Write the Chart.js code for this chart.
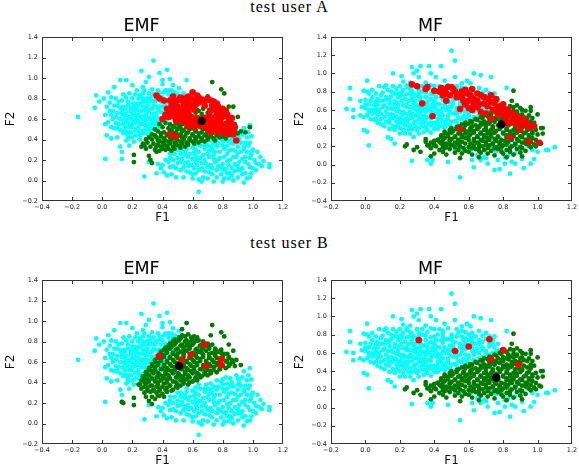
<!DOCTYPE html>
<html>
<head>
<meta charset="utf-8">
<script src="https://cdn.jsdelivr.net/npm/chart.js@4.4.1/dist/chart.umd.min.js"></script>
<style>
  html, body { margin: 0; padding: 0; background: #fff; overflow: hidden; }
  #fig { position: relative; width: 579px; height: 466px; overflow: hidden; }
  .sup { position: absolute; left: 0; width: 579px; text-align: center;
         font-family: "Liberation Serif", serif; font-size: 16px; line-height: 16px;
         letter-spacing: 1px; color: #000; }
  canvas { position: absolute; }
  .frame { position: absolute; box-sizing: border-box; border: 1px solid #333; pointer-events: none; z-index: 5; }
  .tick { position: absolute; background: #333; pointer-events: none; z-index: 5; }
</style>
</head>
<body>
<div id="fig">
  <div class="sup" style="top:-1px">test user A</div>
  <div class="sup" style="top:235px">test user B</div>
  <canvas id="emfA" width="290" height="233" style="left:0;top:0"></canvas>
  <canvas id="mfA" width="290" height="233" style="left:289px;top:0"></canvas>
  <canvas id="emfB" width="290" height="233" style="left:0;top:243px"></canvas>
  <canvas id="mfB" width="290" height="233" style="left:289px;top:243px"></canvas>
</div>
<script>
// axis ranges
const xTicksEMF = [-0.4, 1.2];
const yTicksEMF = [-0.2, 1.4];
const xTicksMF = [-0.2, 1.2];
const yTicksMF = [-0.4, 1.4];
const tickStep = 0.2;

// ---- EMF : all items (same for both users)
const emfCyan = [
  [-0.16,0.62],[-0.04,0.83],[-0.05,0.71],[-0.02,0.77],[0.01,0.80],[0.04,0.86],[0.06,0.81],[0.08,0.91],
  [0.12,0.98],[0.16,0.98],[0.20,0.93],[0.26,1.07],[0.34,1.17],[0.38,1.05],[0.31,1.01],[0.29,0.96],
  [0.27,0.91],[0.23,0.88],[0.18,0.85],[0.13,0.78],[0.10,0.73],[0.07,0.68],[0.02,0.64],[0.02,0.55],
  [0.04,0.57],[0.03,0.44],[0.06,0.41],[0.02,0.21],[0.08,0.51],[0.11,0.55],[0.09,0.62],[0.13,0.65],
  [0.16,0.59],[0.14,0.46],[0.12,0.33],[0.13,0.28],[0.13,0.21],[0.18,0.34],[0.20,0.42],[0.22,0.49],
  [0.18,0.52],[0.21,0.59],[0.24,0.64],[0.19,0.70],[0.22,0.75],[0.27,0.72],[0.27,0.80],[0.31,0.85],
  [0.33,0.78],[0.30,0.67],[0.29,0.59],[0.24,0.52],[0.27,0.46],[0.31,0.55],[0.34,0.62],[0.37,0.70],
  [0.39,0.77],[0.37,0.88],[0.40,0.94],[0.23,0.71],[0.17,0.77],[0.14,0.72],[0.20,0.64],[0.12,0.49],
  [0.16,0.39],[0.28,0.04],[0.36,0.07],[0.31,0.18],[0.10,0.42],[0.17,0.47],
  [0.20,0.80],[0.25,0.83],[0.28,0.77],[0.22,0.68],[0.26,0.62],[0.30,0.73],[0.33,0.70],[0.35,0.77],
  [0.38,0.82],[0.41,0.86],[0.36,0.66],[0.32,0.60],[0.28,0.55],[0.24,0.57],[0.20,0.55],[0.18,0.62],
  [0.16,0.66],[0.24,0.74],[0.30,0.80],[0.34,0.84],[0.42,0.78],[0.44,0.84],[0.46,0.88],[0.40,0.72],
  [0.38,0.60],[0.35,0.55],[0.31,0.50],[0.26,0.48],[0.22,0.44],[0.19,0.47],[0.14,0.55],[0.12,0.60],
  [0.10,0.66],[0.15,0.70],[0.20,0.75],[0.27,0.68],[0.29,0.64],[0.33,0.65],[0.36,0.72],[0.39,0.67],
  [0.43,0.70],[0.45,0.75],[0.48,0.80],[0.50,0.84],[0.44,0.64],[0.41,0.60],[0.37,0.57],[0.34,0.50],
  [0.30,0.45],[0.25,0.40],[0.21,0.38],[0.17,0.41],
  [0.28,0.88],[0.33,0.89],[0.42,0.88],[0.48,0.86],
  [0.14,0.84],[0.22,0.84],[0.27,0.85],[0.38,0.85],[0.47,0.84],
  [0.09,0.80],[0.16,0.81],[0.24,0.80],[0.32,0.81],[0.36,0.80],[0.40,0.81],[0.45,0.80],
  [0.05,0.76],[0.11,0.77],[0.26,0.76],[0.31,0.77],[0.42,0.75],[0.47,0.77],
  [0.03,0.72],[0.08,0.73],[0.12,0.71],[0.17,0.73],[0.21,0.72],[0.29,0.71],[0.34,0.73],[0.38,0.72],[0.47,0.72],
  [0.05,0.68],[0.13,0.68],[0.19,0.67],[0.25,0.68],[0.31,0.69],[0.42,0.68],[0.46,0.68],
  [0.06,0.64],[0.15,0.63],[0.22,0.64],[0.28,0.63],[0.36,0.63],[0.41,0.64],
  [0.07,0.60],[0.14,0.59],[0.19,0.60],[0.23,0.60],[0.27,0.59],[0.31,0.61],[0.35,0.59],[0.43,0.60],
  [0.09,0.56],[0.17,0.56],[0.22,0.56],[0.26,0.55],[0.33,0.56],[0.39,0.56],
  [0.06,0.52],[0.10,0.51],[0.15,0.52],[0.20,0.52],[0.29,0.52],[0.33,0.53],[0.37,0.52],
  [0.15,0.48],[0.24,0.48],[0.28,0.49],[0.32,0.47],
  [0.17,0.44],[0.25,0.44],[0.33,0.44],
  [0.43,1.08],[0.45,0.99],[0.56,0.98],[0.51,0.90],[0.47,0.93],[0.40,0.98],[0.54,0.85],[0.44,0.88],
  [0.64,-0.11],[0.43,0.05],[0.49,0.03],[0.54,0.03],[0.58,0.08],[0.67,0.03],[0.66,-0.01],[0.74,-0.01],
  [0.80,-0.01],[0.87,0.00],[0.94,-0.02],[0.96,0.02],[1.00,0.12],[1.04,0.16],[1.11,0.16],[1.11,0.13],
  [1.05,0.23],[0.99,0.28],[0.98,0.37],[0.99,0.43],[0.97,0.47],[0.94,0.33],[0.95,0.23],[0.91,0.18],
  [0.89,0.23],[0.86,0.12],[0.83,0.07],[0.80,0.16],[0.76,0.10],[0.71,0.08],[0.69,0.16],[0.74,0.21],
  [0.78,0.28],[0.84,0.29],[0.87,0.36],[0.91,0.41],[0.83,0.39],[0.77,0.36],[0.71,0.29],[0.67,0.25],
  [0.63,0.20],[0.59,0.15],[0.54,0.13],[0.49,0.12],[0.45,0.13],[0.47,0.20],[0.53,0.21],[0.58,0.26],
  [0.64,0.28],[0.61,0.12],[0.66,0.12],[0.70,0.02],[0.76,0.03],[0.81,0.02],[0.90,0.03],[0.93,0.12],
  [0.97,0.16],[1.01,0.20],[1.03,0.28],[0.96,0.28],[0.92,0.28],[0.88,0.29],[0.85,0.20],[0.81,0.23],
  [0.77,0.20],[0.72,0.15],[0.79,0.12],[0.88,0.16],[0.95,0.07],[0.68,0.34],[0.74,0.36],[0.80,0.34],
  [0.85,0.44],[0.94,0.51],[0.98,0.54],[0.96,0.42],[0.41,0.08],[0.40,0.15],[0.39,0.12],[0.37,0.16],
  [0.42,0.20],[0.48,0.26],[0.52,0.30],[0.55,0.28],[0.60,0.32],[0.62,0.24],[0.65,0.34],[0.69,0.38],
  [0.72,0.33],[0.75,0.28],[0.79,0.41],[0.82,0.45],[0.86,0.40],[0.89,0.47],[0.92,0.37],[0.57,0.18],
  [0.60,0.06],[0.68,0.20],[0.73,0.12],[0.82,0.11],[0.86,0.05],[0.90,0.10],[0.99,0.07],[1.07,0.19],
  [0.93,0.45],[0.45,0.22],[0.50,0.17],
  [0.76,0.42],[0.80,0.43],[0.90,0.44],
  [0.64,0.38],[0.72,0.39],[0.80,0.38],[0.85,0.37],[0.90,0.38],[0.95,0.37],
  [0.56,0.34],[0.62,0.35],[0.70,0.34],[0.76,0.33],[0.83,0.34],[0.90,0.33],[0.97,0.34],
  [0.50,0.30],[0.56,0.31],[0.62,0.30],[0.68,0.31],[0.73,0.30],[0.81,0.31],[0.86,0.30],[0.94,0.31],[1.00,0.30],
  [0.45,0.26],[0.52,0.26],[0.55,0.25],[0.61,0.27],[0.70,0.26],[0.74,0.25],[0.83,0.26],[0.90,0.26],[0.99,0.25],
  [0.50,0.22],[0.57,0.23],[0.60,0.21],[0.65,0.22],[0.71,0.23],[0.78,0.22],[0.87,0.23],[0.93,0.21],[0.98,0.22],
  [0.44,0.18],[0.52,0.18],[0.55,0.17],[0.62,0.18],[0.66,0.17],[0.75,0.18],[0.83,0.19],[0.95,0.18],[1.02,0.17],
  [0.47,0.14],[0.57,0.14],[0.63,0.15],[0.70,0.13],[0.77,0.14],[0.84,0.15],[0.90,0.14],[0.98,0.13],[1.06,0.14],
  [0.52,0.10],[0.56,0.09],[0.64,0.10],[0.68,0.09],[0.81,0.10],[0.88,0.09],[0.92,0.10],[1.02,0.10],
  [0.46,0.06],[0.62,0.07],[0.73,0.06],[0.79,0.06],[0.85,0.07],[0.93,0.06],
  [0.60,0.02],[0.64,0.01],[0.84,0.02],[0.98,0.03]
];

const emfGreenA = [
  [0.21,0.25],[0.21,0.18],[0.27,0.36],[0.29,0.31],[0.32,0.20],[0.33,0.17],[0.31,0.24],[0.36,0.28],
  [0.37,0.39],[0.39,0.46],[0.38,0.55],[0.34,0.36],[0.31,0.42],[0.26,0.33],[0.29,0.40],[0.33,0.45],
  [0.35,0.50],[0.36,0.33],[0.40,0.52],[0.42,0.56],
  [0.30,0.37],[0.33,0.40],[0.35,0.44],[0.37,0.48],[0.28,0.34],[0.32,0.33],[0.35,0.30],[0.36,0.42],
  [0.38,0.29],[0.42,0.30],[0.46,0.29],
  [0.40,0.31],[0.44,0.31],[0.48,0.31],[0.52,0.32],
  [0.39,0.33],[0.43,0.34],[0.47,0.33],[0.51,0.34],[0.55,0.33],
  [0.37,0.35],[0.41,0.35],[0.45,0.36],[0.49,0.35],[0.53,0.36],[0.57,0.35],[0.61,0.36],
  [0.40,0.37],[0.44,0.38],[0.48,0.37],[0.52,0.38],[0.56,0.37],[0.60,0.38],[0.64,0.37],[0.68,0.38],
  [0.38,0.39],[0.42,0.39],[0.46,0.40],[0.50,0.39],[0.54,0.40],[0.58,0.39],[0.62,0.40],[0.66,0.39],[0.70,0.40],[0.75,0.39],
  [0.41,0.41],[0.45,0.42],[0.49,0.41],[0.53,0.42],[0.58,0.41],[0.62,0.42],[0.66,0.41],[0.70,0.42],
  [0.74,0.41],[0.78,0.42],[0.82,0.41],
  [0.39,0.43],[0.43,0.44],[0.47,0.43],[0.51,0.44],[0.55,0.43],[0.60,0.44],[0.64,0.43],[0.68,0.44],
  [0.72,0.43],[0.76,0.44],[0.80,0.43],[0.84,0.44],
  [0.43,0.45],[0.47,0.46],[0.52,0.45],[0.56,0.46],[0.60,0.45],[0.64,0.46],[0.69,0.45],[0.73,0.46],
  [0.77,0.45],[0.81,0.46],[0.86,0.45],[0.90,0.46],
  [0.41,0.47],[0.45,0.48],[0.49,0.47],[0.53,0.48],[0.57,0.47],[0.62,0.48],[0.66,0.47],[0.70,0.48],
  [0.75,0.47],[0.79,0.48],[0.83,0.47],[0.88,0.48],
  [0.46,0.49],[0.50,0.50],[0.54,0.49],[0.58,0.50],[0.62,0.49],[0.67,0.50],[0.71,0.49],[0.75,0.50],
  [0.79,0.49],[0.84,0.50],[0.88,0.49],
  [0.44,0.51],[0.48,0.52],[0.52,0.51],[0.56,0.52],[0.60,0.51],[0.65,0.52],[0.69,0.51],[0.73,0.52],
  [0.77,0.51],[0.81,0.52],[0.86,0.51],
  [0.47,0.53],[0.51,0.54],[0.56,0.53],[0.60,0.54],[0.64,0.53],[0.69,0.54],[0.73,0.53],[0.78,0.54],
  [0.83,0.53],
  [0.45,0.55],[0.49,0.56],[0.53,0.55],[0.57,0.56],[0.62,0.55],[0.66,0.56],[0.70,0.55],[0.75,0.56],
  [0.50,0.57],[0.54,0.58],[0.58,0.57],[0.63,0.58],[0.67,0.57],[0.72,0.58],
  [0.52,0.59],[0.56,0.60],[0.61,0.59],[0.65,0.60],[0.70,0.59],
  [0.56,0.61],[0.60,0.62],[0.64,0.61],[0.68,0.62],
  [0.58,0.65],[0.62,0.66],[0.66,0.65],[0.70,0.66],[0.64,0.68],
  [0.63,0.69],[0.67,0.70],[0.71,0.69],
  [0.73,0.96],[0.79,0.89],[0.81,0.85],[0.70,0.82],[0.84,0.72],[0.87,0.72],[0.90,0.62],[0.95,0.47],
  [0.98,0.52],[0.92,0.48],[0.88,0.55]
];

const emfGreenB = [
  [0.33,0.26],[0.37,0.27],[0.41,0.26],
  [0.28,0.30],[0.32,0.31],[0.36,0.30],[0.40,0.29],[0.43,0.31],
  [0.30,0.32],[0.34,0.32],[0.38,0.32],[0.42,0.33],[0.46,0.32],
  [0.26,0.34],[0.30,0.35],[0.34,0.33],[0.38,0.34],[0.43,0.35],[0.47,0.33],[0.50,0.35],
  [0.28,0.36],[0.32,0.37],[0.36,0.36],[0.40,0.36],[0.45,0.37],[0.49,0.36],[0.52,0.37],
  [0.25,0.38],[0.29,0.39],[0.33,0.37],[0.37,0.38],[0.41,0.39],[0.45,0.37],[0.50,0.38],[0.54,0.39],[0.57,0.38],
  [0.28,0.40],[0.31,0.41],[0.37,0.40],[0.43,0.40],[0.49,0.40],[0.54,0.41],[0.58,0.40],
  [0.26,0.42],[0.30,0.43],[0.35,0.41],[0.39,0.42],[0.43,0.43],[0.47,0.41],[0.52,0.42],[0.56,0.43],[0.60,0.41],[0.63,0.42],
  [0.28,0.44],[0.33,0.44],[0.37,0.45],[0.41,0.44],[0.45,0.44],[0.50,0.45],[0.54,0.44],[0.58,0.45],[0.62,0.44],[0.65,0.45],
  [0.27,0.46],[0.31,0.47],[0.36,0.45],[0.40,0.46],[0.44,0.47],[0.49,0.45],[0.53,0.46],[0.57,0.47],[0.62,0.45],[0.66,0.46],[0.70,0.47],
  [0.29,0.48],[0.34,0.49],[0.38,0.48],[0.42,0.48],[0.47,0.49],[0.51,0.48],[0.55,0.48],[0.60,0.49],[0.64,0.48],[0.68,0.48],[0.72,0.49],
  [0.29,0.50],[0.33,0.51],[0.37,0.49],[0.42,0.50],[0.46,0.51],[0.50,0.49],[0.55,0.50],[0.59,0.51],[0.63,0.49],[0.68,0.50],[0.72,0.51],[0.76,0.50],
  [0.31,0.52],[0.35,0.52],[0.40,0.53],[0.44,0.52],[0.48,0.52],[0.53,0.53],[0.57,0.52],[0.61,0.52],[0.66,0.53],[0.70,0.52],[0.74,0.52],[0.78,0.53],
  [0.31,0.54],[0.35,0.55],[0.39,0.53],[0.43,0.54],[0.48,0.55],[0.52,0.53],[0.56,0.54],[0.61,0.55],[0.65,0.53],[0.69,0.54],[0.74,0.55],[0.78,0.53],[0.82,0.54],
  [0.33,0.56],[0.37,0.57],[0.41,0.56],[0.46,0.56],[0.50,0.57],[0.54,0.56],[0.59,0.56],[0.63,0.57],[0.67,0.56],[0.72,0.56],[0.76,0.57],[0.80,0.56],[0.84,0.56],
  [0.33,0.58],[0.37,0.59],[0.41,0.57],[0.45,0.58],[0.50,0.59],[0.54,0.57],[0.58,0.58],[0.63,0.59],[0.67,0.57],[0.71,0.58],[0.76,0.59],[0.80,0.57],[0.85,0.58],[0.88,0.56],
  [0.35,0.60],[0.39,0.61],[0.43,0.60],[0.48,0.60],[0.52,0.61],[0.56,0.60],[0.61,0.60],[0.65,0.61],[0.69,0.60],[0.74,0.60],[0.78,0.61],[0.83,0.60],[0.87,0.60],
  [0.35,0.62],[0.39,0.63],[0.43,0.61],[0.47,0.62],[0.52,0.63],[0.56,0.61],[0.60,0.62],[0.65,0.63],[0.69,0.61],[0.73,0.62],[0.78,0.63],[0.82,0.61],[0.86,0.62],
  [0.37,0.64],[0.41,0.65],[0.45,0.64],[0.50,0.64],[0.54,0.65],[0.58,0.64],[0.63,0.64],[0.67,0.65],[0.71,0.64],[0.76,0.64],[0.80,0.65],[0.84,0.64],
  [0.37,0.66],[0.41,0.67],[0.45,0.65],[0.49,0.66],[0.54,0.67],[0.58,0.65],[0.62,0.66],[0.67,0.67],[0.71,0.65],[0.75,0.66],[0.80,0.67],[0.84,0.65],
  [0.39,0.68],[0.43,0.69],[0.47,0.68],[0.50,0.68],[0.54,0.69],[0.58,0.68],[0.62,0.68],[0.66,0.69],[0.71,0.68],[0.75,0.68],[0.79,0.69],[0.83,0.68],
  [0.39,0.70],[0.43,0.71],[0.47,0.69],[0.52,0.70],[0.56,0.71],[0.60,0.69],[0.64,0.70],[0.69,0.71],[0.73,0.69],[0.77,0.70],[0.81,0.68],
  [0.41,0.72],[0.45,0.73],[0.49,0.72],[0.54,0.72],[0.58,0.73],[0.62,0.72],[0.66,0.72],[0.71,0.73],[0.75,0.72],[0.79,0.72],
  [0.42,0.74],[0.46,0.75],[0.50,0.73],[0.54,0.74],[0.58,0.75],[0.63,0.73],[0.67,0.74],[0.71,0.75],[0.75,0.73],
  [0.44,0.76],[0.48,0.77],[0.52,0.76],[0.56,0.76],[0.60,0.77],[0.65,0.76],[0.69,0.76],[0.73,0.77],
  [0.45,0.78],[0.49,0.79],[0.53,0.77],[0.57,0.78],[0.61,0.79],[0.66,0.77],[0.70,0.78],
  [0.47,0.80],[0.51,0.81],[0.55,0.80],[0.59,0.80],[0.63,0.81],[0.67,0.80],
  [0.48,0.82],[0.52,0.83],[0.56,0.81],[0.60,0.82],[0.64,0.81],
  [0.51,0.84],[0.55,0.85],[0.59,0.84],[0.63,0.84],
  [0.53,0.86],[0.57,0.87],[0.61,0.85],
  [0.56,0.98],[0.53,0.92],[0.73,0.96],[0.72,0.86],[0.79,0.89],[0.81,0.85],[0.84,0.77],[0.87,0.71],
  [0.89,0.62],[0.92,0.57],[0.21,0.25],[0.21,0.18],[0.14,0.20],[0.13,0.21],[0.29,0.26],[0.31,0.22],
  [0.33,0.19],[0.35,0.24],[0.38,0.27],[0.24,0.38]
];

const emfRedA = [
  [0.36,0.83],[0.38,0.80],[0.41,0.78],[0.40,0.60],[0.42,0.64],[0.43,0.70],
  [0.47,0.82],[0.52,0.81],[0.57,0.82],[0.60,0.86],[0.63,0.83],
  [0.45,0.78],[0.49,0.77],[0.53,0.78],[0.57,0.77],[0.62,0.78],[0.66,0.79],[0.70,0.80],[0.74,0.77],
  [0.46,0.73],[0.50,0.72],[0.54,0.73],[0.58,0.72],[0.62,0.74],[0.73,0.73],[0.77,0.72],[0.80,0.70],
  [0.45,0.68],[0.49,0.67],[0.53,0.68],[0.57,0.67],[0.61,0.69],[0.72,0.68],[0.76,0.67],[0.80,0.66],[0.83,0.64],
  [0.47,0.63],[0.51,0.62],[0.55,0.63],[0.59,0.62],[0.63,0.61],[0.67,0.61],[0.71,0.63],[0.75,0.62],[0.79,0.61],[0.84,0.59],
  [0.49,0.58],[0.54,0.57],[0.58,0.57],[0.62,0.56],[0.70,0.57],[0.74,0.56],[0.78,0.57],[0.82,0.55],[0.86,0.55],
  [0.57,0.53],[0.61,0.52],[0.66,0.53],[0.70,0.52],[0.74,0.51],[0.79,0.52],[0.83,0.50],[0.87,0.50],
  [0.72,0.47],[0.77,0.47],[0.81,0.46],[0.85,0.46],[0.87,0.45],
  [0.45,0.45],[0.49,0.43],[0.89,0.39],
  [0.44,0.62],[0.46,0.66],[0.48,0.70],[0.48,0.75],[0.51,0.79],[0.55,0.80],[0.59,0.80],[0.64,0.81],
  [0.68,0.77],[0.72,0.78],[0.76,0.75],[0.78,0.69],[0.82,0.68],[0.81,0.63],[0.86,0.61],[0.85,0.57],
  [0.88,0.52],[0.84,0.52],[0.80,0.54],[0.76,0.54],[0.72,0.54],[0.76,0.59],[0.72,0.60],[0.68,0.58],
  [0.64,0.58],[0.60,0.59],[0.56,0.60],[0.52,0.60],[0.53,0.65],[0.51,0.70],[0.55,0.70],[0.56,0.76],
  [0.60,0.74],[0.64,0.76],[0.68,0.73],[0.74,0.70],[0.78,0.65],[0.79,0.49],[0.83,0.48],[0.75,0.49],
  [0.70,0.50],[0.65,0.55],[0.59,0.55]
];
const emfRedB = [[0.38,0.66],[0.53,0.62],[0.59,0.67],[0.68,0.77],[0.69,0.56],[0.79,0.63],[0.79,0.57]];
const emfBlackA = [[0.66,0.58]];
const emfBlackB = [[0.51,0.56]];

// ---- MF : all items (same for both users)
const mfCyan = [
  [-0.09,0.84],[-0.09,0.72],[-0.11,0.61],[-0.07,0.60],[-0.07,0.52],[-0.01,0.81],[0.01,0.80],[0.00,0.71],
  [-0.03,0.70],[-0.02,0.63],[-0.03,0.54],[-0.01,0.52],[0.01,0.92],[-0.01,0.38],[0.01,0.36],[0.02,0.21],
  [0.05,0.49],[0.04,0.60],[0.06,0.69],[0.09,0.76],[0.11,0.85],[0.12,0.87],[0.16,1.00],[0.14,0.72],
  [0.11,0.65],[0.09,0.56],[0.12,0.47],[0.14,0.39],[0.13,0.30],[0.17,0.23],[0.15,0.28],[0.20,0.34],
  [0.19,0.43],[0.18,0.52],[0.16,0.61],[0.19,0.67],[0.21,0.76],[0.22,0.91],[0.21,0.97],[0.27,1.07],
  [0.30,1.03],[0.32,1.08],[0.28,1.00],[0.31,0.96],[0.37,1.08],[0.38,1.00],[0.44,1.08],[0.41,0.96],
  [0.46,0.92],[0.50,1.25],[0.24,0.87],[0.27,0.81],[0.23,0.72],[0.26,0.63],[0.23,0.56],[0.24,0.47],
  [0.22,0.45],[0.27,0.39],[0.23,0.34],[0.28,0.30],[0.27,0.04],[0.36,0.05],[0.38,0.01],[0.32,0.45],
  [0.31,0.54],[0.29,0.61],[0.34,0.61],[0.36,0.52],[0.38,0.43],[0.34,0.36],[0.40,0.39],[0.42,0.50],
  [0.39,0.63],[0.44,0.58],[0.47,0.49],[0.48,0.63],[0.46,0.41],[0.38,0.72],[0.44,0.74],[0.36,0.69],
  [0.32,0.74],[0.29,0.70],[0.21,0.49],
  [0.05,0.65],[0.08,0.60],[0.10,0.70],[0.13,0.62],[0.15,0.55],[0.17,0.66],[0.20,0.58],[0.22,0.65],
  [0.25,0.70],[0.27,0.56],[0.30,0.65],[0.32,0.58],[0.34,0.68],[0.37,0.60],[0.39,0.66],[0.41,0.56],
  [0.43,0.66],[0.45,0.54],[0.47,0.60],[0.49,0.68],[0.51,0.56],[0.53,0.62],[0.55,0.58],[0.57,0.53],
  [0.60,0.57],[0.58,0.64],[0.62,0.62],[0.52,0.72],[0.55,0.66],[0.24,0.77],[0.28,0.78],[0.33,0.80],
  [0.38,0.77],[0.42,0.80],[0.19,0.78],[0.15,0.80],[0.12,0.74],[0.07,0.72],[0.04,0.56],[0.11,0.52],
  [0.18,0.47],[0.25,0.50],[0.29,0.47],[0.33,0.50],[0.36,0.45],[0.40,0.46],[0.43,0.42],[0.47,0.44],
  [0.50,0.47],[0.26,0.43],[0.31,0.40],[0.35,0.41],[0.16,0.42],[0.20,0.40],[0.14,0.50],[0.09,0.44],
  [0.06,0.50],[0.02,0.60],[0.00,0.66],[0.20,0.86],[0.26,0.90],[0.30,0.86],[0.35,0.90],[0.40,0.86],
  [0.45,0.84],[0.50,0.80],[0.48,0.75],[0.58,0.76],[0.56,0.84],[0.60,0.68],[0.64,0.70],[0.66,0.60],
  [0.70,0.62],[0.68,0.55],[0.63,0.52],
  [0.08,0.86],[0.16,0.86],[0.24,0.85],[0.33,0.86],[0.38,0.87],[0.43,0.86],[0.48,0.87],[0.53,0.86],
  [0.04,0.82],[0.13,0.82],[0.18,0.83],[0.22,0.82],[0.26,0.83],[0.31,0.82],[0.36,0.83],[0.45,0.82],[0.54,0.82],[0.58,0.83],[0.62,0.82],[0.70,0.82],
  [0.02,0.78],[0.06,0.78],[0.10,0.79],[0.17,0.78],[0.21,0.79],[0.26,0.78],[0.31,0.78],[0.35,0.79],[0.40,0.78],[0.45,0.78],[0.50,0.77],[0.56,0.78],[0.62,0.78],[0.68,0.79],[0.75,0.78],
  [0.04,0.74],[0.15,0.75],[0.19,0.74],[0.27,0.74],[0.30,0.75],[0.35,0.74],[0.41,0.74],[0.46,0.75],[0.50,0.74],[0.57,0.74],[0.62,0.75],[0.66,0.74],[0.70,0.75],[0.74,0.74],
  [0.03,0.70],[0.08,0.70],[0.12,0.71],[0.17,0.70],[0.21,0.70],[0.27,0.71],[0.32,0.70],[0.40,0.70],[0.45,0.71],[0.51,0.70],[0.58,0.70],[0.62,0.71],[0.66,0.70],[0.74,0.70],
  [0.02,0.66],[0.07,0.66],[0.14,0.67],[0.19,0.66],[0.24,0.66],[0.28,0.67],[0.32,0.66],[0.36,0.66],[0.41,0.67],[0.46,0.66],[0.51,0.66],[0.57,0.67],[0.62,0.66],[0.68,0.66],[0.72,0.67],
  [0.00,0.62],[0.06,0.62],[0.10,0.63],[0.15,0.62],[0.19,0.62],[0.24,0.63],[0.28,0.62],[0.32,0.62],[0.36,0.63],[0.41,0.62],[0.45,0.62],[0.50,0.63],[0.56,0.62],[0.64,0.62],[0.68,0.63],[0.76,0.62],
  [0.02,0.58],[0.06,0.58],[0.12,0.58],[0.18,0.59],[0.22,0.58],[0.26,0.58],[0.30,0.59],[0.35,0.58],[0.39,0.58],[0.42,0.59],[0.49,0.58],[0.53,0.59],[0.58,0.58],[0.63,0.58],[0.72,0.58],
  [0.01,0.54],[0.07,0.54],[0.13,0.55],[0.17,0.54],[0.21,0.54],[0.25,0.55],[0.29,0.54],[0.34,0.54],[0.38,0.55],[0.43,0.54],[0.48,0.54],[0.53,0.55],[0.60,0.54],[0.66,0.54],
  [0.03,0.50],[0.09,0.50],[0.16,0.51],[0.20,0.50],[0.23,0.50],[0.27,0.51],[0.31,0.50],[0.35,0.50],[0.38,0.51],[0.44,0.50],[0.48,0.50],[0.54,0.51],[0.59,0.50],
  [0.07,0.46],[0.14,0.46],[0.20,0.47],[0.24,0.46],[0.28,0.46],[0.34,0.47],[0.38,0.46],[0.42,0.46],[0.45,0.47],[0.53,0.46],
  [0.11,0.42],[0.18,0.42],[0.23,0.43],[0.29,0.42],[0.33,0.42],[0.38,0.43],[0.41,0.42],[0.45,0.42],[0.49,0.43],
  [0.17,0.38],[0.22,0.38],[0.25,0.39],[0.30,0.38],[0.36,0.38],[0.42,0.39],
  [0.26,0.34],[0.31,0.34],[0.38,0.35],
  [0.52,1.14],[0.52,0.96],[0.63,1.00],[0.67,0.98],[0.73,0.96],[0.59,0.92],[0.61,0.89],[0.56,0.89],
  [0.82,0.84],[0.55,0.70],[0.60,0.74],[0.64,0.78],[0.68,0.72],[0.72,0.70],[0.75,0.66],[0.70,0.58],
  [0.74,0.60],[0.78,0.63],[0.77,0.70],[0.65,0.65],[0.60,0.80],[0.53,0.78],[0.66,0.84],[0.72,0.78],
  [0.56,0.50],[0.52,0.48],
  [0.55,-0.14],[0.63,-0.03],[0.67,0.05],[0.69,0.08],[0.65,0.10],[0.61,0.16],[0.56,0.14],[0.52,0.16],
  [0.75,-0.06],[0.78,-0.05],[0.84,-0.10],[0.81,0.01],[0.85,0.03],[0.92,-0.04],[0.96,0.01],[0.98,0.06],
  [0.97,0.16],[1.05,0.16],[1.10,0.19],[1.06,0.16],[1.00,0.14],[0.90,0.14],[0.87,0.12],[0.83,0.10],
  [0.79,0.16],[0.74,0.16],[0.71,0.01],[0.81,0.08],[0.89,0.19],[0.94,0.21],[0.91,0.06],[0.87,0.01],
  [0.84,0.21],[0.73,0.19],[0.77,0.05],[0.51,0.23],[0.48,0.03],[0.39,0.05],[0.62,0.05],[0.70,0.07],
  [0.76,0.15]
];

const mfGreen = [
  [0.40,0.12],[0.47,0.11],[0.52,0.13],[0.56,0.12],[0.62,0.11],[0.67,0.13],[0.71,0.12],[0.75,0.10],
  [0.80,0.12],[0.86,0.11],[0.90,0.13],
  [0.45,0.14],[0.60,0.14],[0.66,0.15],[0.79,0.14],[0.84,0.14],
  [0.28,0.16],[0.32,0.14],[0.43,0.16],[0.49,0.17],[0.54,0.16],[0.58,0.15],[0.64,0.17],[0.69,0.16],
  [0.73,0.15],[0.77,0.17],[0.82,0.16],[0.88,0.17],[0.93,0.15],
  [0.38,0.18],[0.46,0.18],[0.52,0.19],[0.57,0.18],[0.62,0.18],[0.66,0.19],[0.71,0.18],[0.75,0.18],
  [0.79,0.19],[0.84,0.18],[0.91,0.18],[0.96,0.19],
  [0.36,0.21],[0.41,0.20],[0.45,0.19],[0.50,0.21],[0.55,0.20],[0.60,0.19],[0.63,0.21],[0.68,0.20],
  [0.72,0.21],[0.76,0.19],[0.80,0.21],[0.85,0.20],[0.90,0.19],[0.95,0.21],[0.99,0.20],
  [0.40,0.22],[0.45,0.23],[0.49,0.22],[0.54,0.22],[0.58,0.23],[0.66,0.22],[0.70,0.22],[0.74,0.23],
  [0.78,0.22],[0.82,0.22],[0.87,0.22],[0.93,0.23],[0.98,0.22],
  [0.38,0.24],[0.43,0.25],[0.47,0.23],[0.52,0.24],[0.56,0.25],[0.61,0.23],[0.65,0.24],[0.70,0.25],
  [0.74,0.23],[0.78,0.24],[0.83,0.25],[0.87,0.23],[0.91,0.24],[0.96,0.25],[1.01,0.24],
  [0.40,0.26],[0.45,0.27],[0.49,0.26],[0.54,0.26],[0.60,0.27],[0.63,0.26],[0.68,0.26],[0.72,0.27],
  [0.76,0.26],[0.81,0.26],[0.85,0.27],[0.89,0.26],[0.94,0.26],[0.99,0.27],
  [0.35,0.28],[0.42,0.27],[0.46,0.29],[0.50,0.28],[0.54,0.27],[0.58,0.29],[0.63,0.28],[0.67,0.27],
  [0.71,0.29],[0.75,0.28],[0.79,0.27],[0.84,0.29],[0.88,0.28],[0.93,0.27],[0.97,0.29],
  [0.44,0.30],[0.48,0.31],[0.52,0.30],[0.56,0.30],[0.60,0.31],[0.65,0.30],[0.69,0.30],[0.73,0.31],
  [0.77,0.30],[0.82,0.30],[0.86,0.31],[0.91,0.30],[0.95,0.30],
  [0.44,0.32],[0.48,0.33],[0.52,0.31],[0.56,0.32],[0.61,0.33],[0.65,0.31],[0.69,0.32],[0.73,0.33],
  [0.77,0.31],[0.82,0.32],[0.86,0.33],[0.90,0.31],[0.95,0.32],[1.00,0.33],
  [0.46,0.34],[0.50,0.35],[0.54,0.34],[0.58,0.34],[0.63,0.35],[0.67,0.34],[0.71,0.34],[0.75,0.35],
  [0.80,0.34],[0.84,0.34],[0.88,0.35],[0.92,0.34],[0.97,0.34],
  [0.46,0.36],[0.51,0.37],[0.55,0.35],[0.59,0.36],[0.63,0.37],[0.67,0.35],[0.71,0.36],[0.76,0.37],
  [0.80,0.35],[0.84,0.36],[0.88,0.37],[0.93,0.35],[0.97,0.36],
  [0.49,0.38],[0.53,0.39],[0.57,0.38],[0.61,0.38],[0.65,0.39],[0.69,0.38],[0.73,0.38],[0.78,0.39],
  [0.82,0.38],[0.86,0.38],[0.90,0.39],[0.94,0.38],[0.99,0.38],
  [0.50,0.40],[0.53,0.41],[0.57,0.39],[0.61,0.40],[0.66,0.41],[0.70,0.39],[0.74,0.40],[0.78,0.41],
  [0.82,0.39],[0.87,0.40],[0.91,0.41],[0.95,0.39],[1.02,0.40],
  [0.54,0.42],[0.58,0.43],[0.62,0.42],[0.66,0.42],[0.70,0.43],[0.74,0.42],[0.79,0.42],[0.83,0.43],
  [0.87,0.42],[0.91,0.42],[0.96,0.43],
  [0.56,0.44],[0.60,0.45],[0.64,0.43],[0.68,0.44],[0.72,0.45],[0.77,0.43],[0.81,0.44],[0.85,0.45],
  [0.89,0.43],[0.94,0.44],
  [0.58,0.46],[0.62,0.47],[0.67,0.46],[0.71,0.46],[0.75,0.47],[0.80,0.46],[0.84,0.46],[0.88,0.47],
  [0.92,0.46],[0.98,0.46],
  [0.61,0.48],[0.65,0.49],[0.69,0.47],[0.73,0.48],[0.78,0.49],[0.82,0.47],[0.86,0.48],[0.90,0.49],[0.96,0.47],
  [0.64,0.50],[0.68,0.51],[0.72,0.50],[0.76,0.50],[0.80,0.51],[0.85,0.50],[0.89,0.50],[0.94,0.51],
  [0.67,0.52],[0.71,0.53],[0.75,0.51],[0.79,0.52],[0.83,0.53],[0.87,0.51],[0.92,0.52],[0.97,0.51],
  [0.69,0.54],[0.73,0.55],[0.77,0.54],[0.82,0.54],[0.86,0.55],[0.90,0.54],[0.95,0.54],
  [0.72,0.56],[0.76,0.57],[0.80,0.55],[0.84,0.56],[0.88,0.57],[0.91,0.55],
  [0.75,0.58],[0.79,0.59],[0.83,0.58],[0.88,0.58],[0.93,0.59],
  [0.78,0.60],[0.82,0.61],[0.86,0.59],[0.91,0.60],[0.96,0.59],
  [0.81,0.62],[0.86,0.63],[0.90,0.62],
  [0.84,0.64],[0.88,0.65],
  [0.86,0.81],[0.85,0.70],[0.96,0.63],[1.00,0.55],[1.03,0.40],[1.03,0.34],[1.02,0.23],[0.24,0.22],
  [0.23,0.20],[0.38,0.09],[0.35,0.25],[0.37,0.21],[0.40,0.21],[0.42,0.27],[0.44,0.23],[0.47,0.19],
  [0.48,0.34],[0.49,0.27],[0.30,0.19],[0.55,0.07],[0.66,0.08],[0.82,0.08],[0.91,0.09]
];

const mfRedA = [
  [0.27,0.88],[0.30,0.86],[0.35,0.83],[0.33,0.67],[0.39,0.53],[0.40,0.81],[0.43,0.80],[0.46,0.82],
  [0.48,0.85],[0.47,0.70],[0.50,0.85],[0.52,0.80],[0.45,0.76],[0.49,0.76],[0.53,0.74],[0.56,0.74],
  [0.62,0.83],[0.55,0.61],[0.60,0.70],[0.58,0.66],[0.63,0.72],[0.67,0.76],[0.73,0.76],[0.71,0.72],
  [0.69,0.67],[0.75,0.67],[0.65,0.63],[0.62,0.60],[0.70,0.56],[0.74,0.60],[0.79,0.60],[0.77,0.55],
  [0.81,0.52],[0.84,0.56],[0.86,0.50],[0.89,0.52],[0.91,0.47],[0.88,0.44],[0.93,0.43],[0.96,0.41],
  [0.90,0.38],[0.84,0.30],[0.95,0.25],[1.01,0.24],[0.55,0.39],[0.83,0.45],[0.73,0.50],[0.67,0.58],
  [0.60,0.62],[0.56,0.80],[0.59,0.78],[0.65,0.70],[0.78,0.64],[0.80,0.57],[0.57,0.70],
  [0.36,0.85],[0.44,0.84],[0.47,0.78],[0.51,0.83],[0.54,0.77],[0.58,0.82],[0.61,0.76],[0.65,0.78],
  [0.69,0.74],[0.66,0.66],[0.71,0.64],[0.73,0.69],[0.77,0.62],[0.76,0.72],[0.80,0.66],[0.83,0.60],
  [0.86,0.56],[0.87,0.47],[0.92,0.50],[0.94,0.46],[0.98,0.42],[0.82,0.49],[0.63,0.66]
];
const mfRedB = [[0.31,0.74],[0.52,0.62],[0.60,0.67],[0.72,0.75],[0.80,0.63],[0.73,0.53],[0.89,0.47]];
const mfBlackA = [[0.79,0.44]];
const mfBlackB = [[0.76,0.33]];

function pts(arr) {
  return arr.map(p => ({ x: p[0], y: p[1] }));
}

function fmtTick(v) {
  if (Math.abs(v) < 1e-9) v = 0;
  return v.toFixed(1).replace('-', '\u2212');
}

const tickFont = { family: 'DejaVu Sans', size: 6.5 };
const labelFont = { family: 'DejaVu Sans', size: 12 };

// frame + inward tick marks placed from the chart's own area and scales
function addFrame(chart, canvas) {
  const fig = document.getElementById('fig');
  const a = chart.chartArea;
  const ox = canvas.offsetLeft, oy = canvas.offsetTop;
  const L = Math.round(a.left), R = Math.round(a.right);
  const T = Math.round(a.top), B = Math.round(a.bottom);
  const box = document.createElement('div');
  box.className = 'frame';
  box.style.left = (ox + L) + 'px';
  box.style.top = (oy + T) + 'px';
  box.style.width = (R - L) + 'px';
  box.style.height = (B - T) + 'px';
  fig.appendChild(box);
  function mark(x, y, w, h) {
    const d = document.createElement('div');
    d.className = 'tick';
    d.style.left = (ox + x) + 'px';
    d.style.top = (oy + y) + 'px';
    d.style.width = w + 'px';
    d.style.height = h + 'px';
    fig.appendChild(d);
  }
  const sx = chart.scales.x, sy = chart.scales.y;
  sx.ticks.forEach(t => {
    const px = Math.min(Math.max(Math.round(sx.getPixelForValue(t.value)), L), R - 1);
    mark(px, T, 1, 4);
    mark(px, B - 4, 1, 4);
  });
  sy.ticks.forEach(t => {
    const py = Math.min(Math.max(Math.round(sy.getPixelForValue(t.value)), T), B - 1);
    mark(L, py, 4, 1);
    mark(R - 4, py, 4, 1);
  });
}

function makeScatter(id, title, xr, yr, cyan, green, red, black) {
  const canvas = document.getElementById(id);
  const chart = new Chart(canvas.getContext('2d'), {
    type: 'scatter',
    data: {
      datasets: [
        { data: pts(cyan), backgroundColor: '#00ffff', pointRadius: 2.4, borderWidth: 0, order: 4 },
        { data: pts(green), backgroundColor: '#007a00', pointRadius: 2.4, borderWidth: 0, order: 3 },
        { data: pts(red), backgroundColor: '#ff0000', pointRadius: 3.3, borderWidth: 0, order: 2 },
        { data: pts(black), backgroundColor: '#000000', pointRadius: 4.2, borderWidth: 0, order: 1 }
      ]
    },
    options: {
      responsive: false,
      animation: false,
      events: [],
      layout: { padding: { left: 0, right: 7, top: 0, bottom: 0 } },
      plugins: {
        legend: { display: false },
        tooltip: { enabled: false },
        title: {
          display: true, text: title, color: '#000',
          font: { family: 'DejaVu Sans', size: 17.5, weight: 'normal' },
          padding: { top: 16, bottom: 0 }
        }
      },
      scales: {
        x: {
          type: 'linear', min: xr[0], max: xr[1],
          afterFit(s) { s.height = 32; s.paddingLeft = 0; s.paddingRight = 0; },
          grid: { display: false, drawTicks: false },
          border: { display: false },
          ticks: { stepSize: tickStep, autoSkip: false, maxRotation: 0, padding: 2,
                   font: tickFont, color: '#222', callback: v => fmtTick(v) },
          title: { display: true, text: 'F1', color: '#111', font: labelFont,
                   padding: { top: 0, bottom: 8 } }
        },
        y: {
          type: 'linear', min: yr[0], max: yr[1],
          afterFit(s) { s.width = 42; s.paddingTop = 0; s.paddingBottom = 0; },
          grid: { display: false, drawTicks: false },
          border: { display: false },
          ticks: { stepSize: tickStep, autoSkip: false, padding: 4,
                   font: tickFont, color: '#222', callback: v => fmtTick(v) },
          title: { display: true, text: 'F2', color: '#111', font: labelFont,
                   padding: { top: 4, bottom: 0 } }
        }
      }
    }
  });
  addFrame(chart, canvas);
  return chart;
}

makeScatter('emfA', 'EMF', xTicksEMF, yTicksEMF, emfCyan, emfGreenA, emfRedA, emfBlackA);
makeScatter('mfA', 'MF', xTicksMF, yTicksMF, mfCyan, mfGreen, mfRedA, mfBlackA);
makeScatter('emfB', 'EMF', xTicksEMF, yTicksEMF, emfCyan, emfGreenB, emfRedB, emfBlackB);
makeScatter('mfB', 'MF', xTicksMF, yTicksMF, mfCyan, mfGreen, mfRedB, mfBlackB);
</script>
</body>
</html>
